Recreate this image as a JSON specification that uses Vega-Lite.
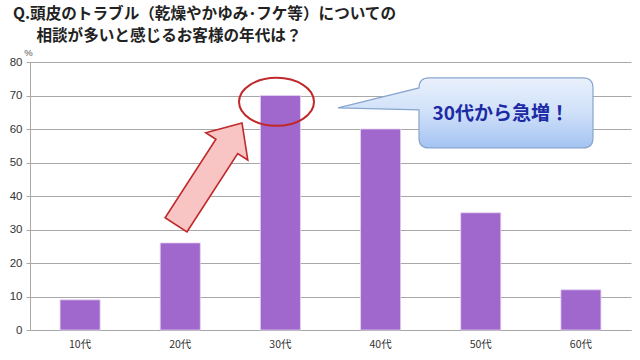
{
  "$schema": "https://vega.github.io/schema/vega-lite/v6.json",
  "width": 601,
  "height": 268,
  "autosize": "none",
  "padding": {"left": 30, "top": 62, "right": 9, "bottom": 30},
  "background": "white",
  "config": {"view": {"stroke": null}, "font": "Noto Sans CJK JP"},
  "title": {
    "text": ["Q.頭皮のトラブル（乾燥やかゆみ･フケ等）についての", "\u200b\u3000\u2002相談が多いと感じるお客様の年代は？"],
    "anchor": "start",
    "frame": "group",
    "dx": -17,
    "offset": 2,
    "fontSize": 15.6,
    "fontWeight": "bold",
    "color": "#222222",
    "lineHeight": 22,
    "font": "Noto Sans CJK JP"
  },
  "datasets": {
    "bars": [
      {"age": "10代", "pct": 9},
      {"age": "20代", "pct": 26},
      {"age": "30代", "pct": 70},
      {"age": "40代", "pct": 60},
      {"age": "50代", "pct": 35},
      {"age": "60代", "pct": 12}
    ],
    "notes": [
      {"kind": "arrow", "pos": 1.787, "pct": 46.6},
      {"kind": "ellipse", "pos": 2.461, "pct": 68.1},
      {"kind": "callout", "pos": 4.742, "pct": 64.8},
      {"kind": "label", "pos": 4.70, "pct": 64.6, "text": "30代から急増！"}
    ]
  },
  "layer": [
    {
      "data": {"name": "bars"},
      "mark": {"type": "bar", "color": "#a067cd", "stroke": "#e4d3f2", "strokeWidth": 0.8},
      "encoding": {
        "x": {
          "field": "age", "type": "nominal", "sort": null,
          "scale": {"paddingInner": 0.6, "paddingOuter": 0.3},
          "axis": {
            "title": null, "labelAngle": 0, "ticks": false, "labelPadding": 9,
            "labelFontSize": 10.5, "labelColor": "#333333", "labelFont": "Noto Sans CJK JP",
            "domainColor": "#a6a6a6", "grid": false
          }
        },
        "y": {
          "field": "pct", "type": "quantitative",
          "scale": {"domain": [0, 80]},
          "axis": {
            "title": "%", "titleAngle": 0, "titleX": -2, "titleY": -5,
            "titleAlign": "center", "titleBaseline": "bottom",
            "titleFontSize": 9.5, "titleFontWeight": "normal", "titleColor": "#555555",
            "titleFont": "Liberation Sans",
            "values": [0, 10, 20, 30, 40, 50, 60, 70, 80],
            "labelOverlap": false,
            "grid": true, "gridColor": "#a8a8a8",
            "domainColor": "#a8a8a8", "tickColor": "#a8a8a8", "tickSize": 4,
            "labelFontSize": 11.5, "labelColor": "#333333", "labelFont": "Liberation Sans",
            "labelPadding": 4
          }
        }
      }
    },
    {
      "data": {"name": "notes"},
      "transform": [{"filter": "datum.kind === 'arrow'"}],
      "mark": {
        "type": "point", "filled": true, "opacity": 1, "size": 40000,
        "shape": "M -0.221 0.581 L 0.287 -0.204 L 0.388 -0.139 L 0.33 -0.51 L -0.032 -0.411 L 0.069 -0.346 L -0.439 0.439 Z",
        "fill": "#f8c4c4", "stroke": "#c0282a", "strokeWidth": 1.6
      },
      "encoding": {
        "x": {"field": "pos", "type": "quantitative", "scale": {"domain": [0, 6]}, "axis": null},
        "y": {"field": "pct", "type": "quantitative", "axis": null}
      }
    },
    {
      "data": {"name": "notes"},
      "transform": [{"filter": "datum.kind === 'ellipse'"}],
      "mark": {
        "type": "point", "filled": false, "opacity": 1, "size": 5625,
        "shape": "M -1 0 C -1 -0.3535 -0.5523 -0.64 0 -0.64 C 0.5523 -0.64 1 -0.3535 1 0 C 1 0.3535 0.5523 0.64 0 0.64 C -0.5523 0.64 -1 0.3535 -1 0 Z",
        "stroke": "#c0282a", "strokeWidth": 2
      },
      "encoding": {
        "x": {"field": "pos", "type": "quantitative", "scale": {"domain": [0, 6]}, "axis": null},
        "y": {"field": "pct", "type": "quantitative", "axis": null}
      }
    },
    {
      "data": {"name": "notes"},
      "transform": [{"filter": "datum.kind === 'callout'"}],
      "mark": {
        "type": "point", "filled": true, "opacity": 1, "size": 40000,
        "shape": "M -0.76 -0.35 L 0.78 -0.35 Q 0.88 -0.35 0.88 -0.25 L 0.88 0.25 Q 0.88 0.35 0.78 0.35 L -0.76 0.35 Q -0.86 0.35 -0.86 0.25 L -0.86 -0.03 L -1.67 -0.05 L -0.86 -0.25 Q -0.86 -0.35 -0.76 -0.35 Z",
        "fill": {
          "gradient": "linear", "x1": 0, "y1": 0, "x2": 0, "y2": 1,
          "stops": [{"offset": 0, "color": "#eaf1fc"}, {"offset": 0.5, "color": "#cfe0f9"}, {"offset": 1, "color": "#a4c3f2"}]
        },
        "stroke": "#88a6cf", "strokeWidth": 1.2
      },
      "encoding": {
        "x": {"field": "pos", "type": "quantitative", "scale": {"domain": [0, 6]}, "axis": null},
        "y": {"field": "pct", "type": "quantitative", "axis": null}
      }
    },
    {
      "data": {"name": "notes"},
      "transform": [{"filter": "datum.kind === 'label'"}],
      "mark": {
        "type": "text", "fontSize": 19, "fontWeight": "bold", "color": "#1c2aa5",
        "font": "Noto Sans CJK JP", "align": "center", "baseline": "middle"
      },
      "encoding": {
        "x": {"field": "pos", "type": "quantitative", "scale": {"domain": [0, 6]}, "axis": null},
        "y": {"field": "pct", "type": "quantitative", "axis": null},
        "text": {"field": "text"}
      }
    }
  ],
  "resolve": {"scale": {"x": "independent"}, "axis": {"y": "independent"}}
}
